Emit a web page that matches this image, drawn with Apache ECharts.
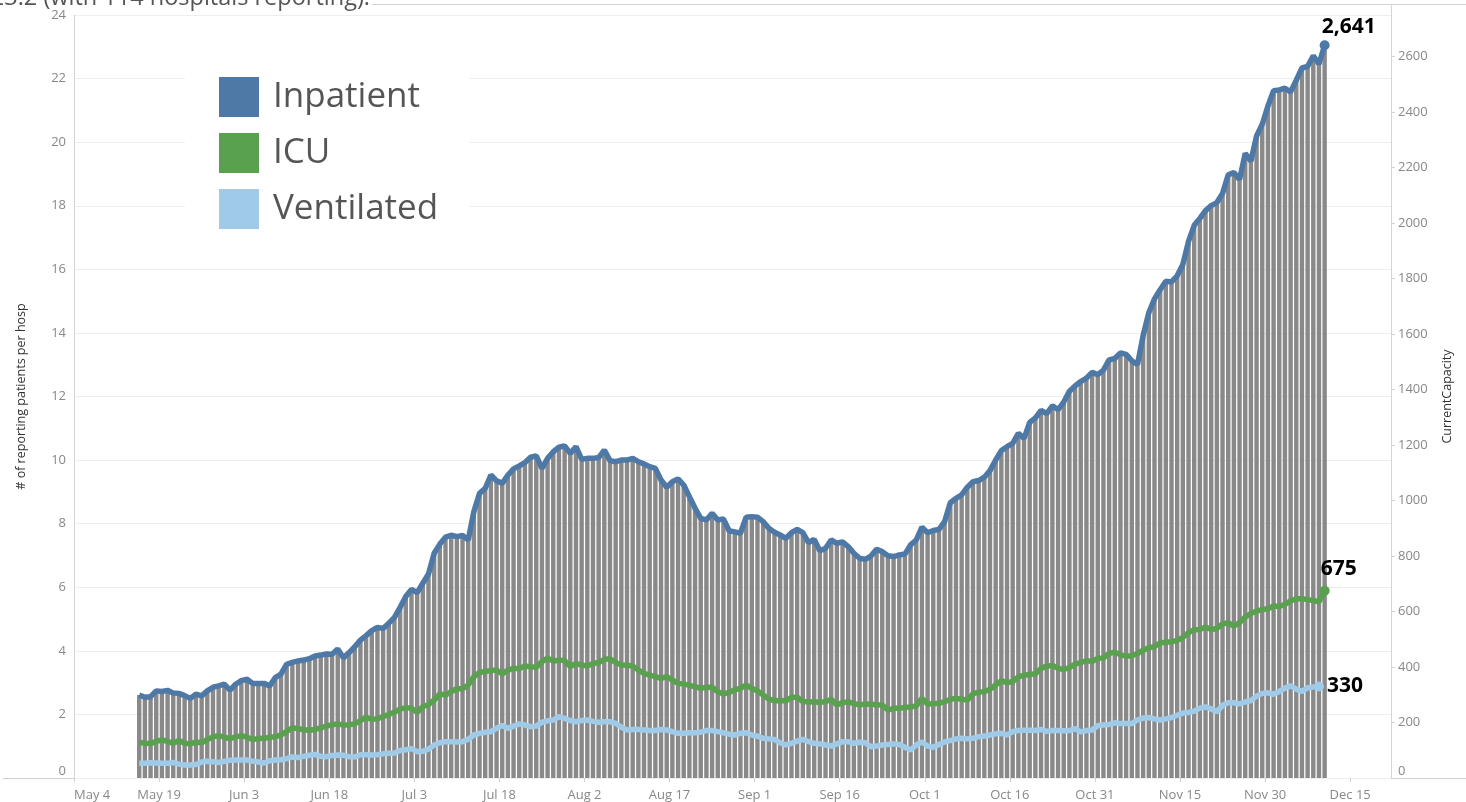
<!DOCTYPE html>
<html>
<head>
<meta charset="utf-8">
<script src="https://cdn.jsdelivr.net/npm/echarts@6/dist/echarts.min.js"></script>
<style>
html,body{margin:0;padding:0;background:#fff;}
#c{width:1466px;height:802px;}
</style>
</head>
<body>
<div id="c"></div>
<script>
// ---------- data ----------
const axisStartDate = '2020-05-04';   // first x-axis tick
const axisEndDate   = '2020-12-22';   // right edge of the axis
const firstDataDate = '2020-05-15';   // first reported day
const tickEveryDays = 15;
const seriesNames = ['Inpatient', 'ICU', 'Ventilated'];
const leftAxisMax = 24;
const rightAxisMax = 2750;
const titleText = 'Inpatients per reporting hospital: 23.2 (with 114 hospitals reporting).';
const leftAxisTitle = '# of reporting patients per hosp';
const rightAxisTitle = 'CurrentCapacity';

const inpatient = [
299,291,293,314,312,316,306,305,297,287,302,296,314,327,332,338,317,338,351,356,
341,341,341,332,362,375,410,417,422,425,430,440,443,447,446,465,433,452,473,497,
513,531,543,539,558,579,615,654,680,668,702,735,810,843,868,875,870,874,858,960,
1026,1044,1092,1071,1062,1092,1114,1125,1137,1156,1161,1116,1152,1176,1192,1197,1170,1194,1149,1152,
1152,1155,1182,1144,1140,1146,1146,1152,1140,1132,1122,1116,1074,1048,1068,1078,1056,1014,972,936,
930,954,930,934,891,887,882,940,942,940,924,900,886,876,864,884,896,884,848,860,
819,828,858,846,851,834,810,792,788,800,824,816,801,798,804,807,840,858,904,884,
892,896,924,992,1008,1020,1048,1068,1072,1084,1108,1146,1180,1194,1206,1242,1224,1282,1298,1325,
1313,1341,1328,1355,1394,1413,1429,1441,1462,1454,1470,1507,1512,1532,1527,1504,1490,1595,1677,1727,
1760,1790,1788,1810,1851,1934,1992,2017,2045,2063,2074,2107,2174,2182,2157,2251,2223,2314,2356,2422,
2477,2480,2486,2473,2515,2559,2565,2603,2574,2641
];
const icu = [
129,125,124,132,137,132,125,135,125,123,130,127,139,148,153,147,142,148,153,147,
139,142,143,147,149,155,168,181,178,174,172,175,181,187,192,195,191,192,195,207,
219,211,214,221,229,238,248,254,251,237,257,265,281,303,299,311,322,322,335,365,
380,384,387,389,375,389,395,395,404,401,399,419,432,421,425,423,401,413,407,404,
413,416,428,430,416,407,406,404,389,377,371,365,359,365,353,341,339,334,329,323,
327,327,311,303,308,318,323,335,323,314,299,285,278,279,278,291,291,275,275,274,
273,275,284,263,272,274,269,263,267,266,264,263,245,251,251,255,256,260,287,267,
268,269,275,284,287,284,281,303,310,311,320,335,351,344,347,365,370,373,376,395,
403,406,395,391,398,411,416,423,420,431,433,449,453,444,439,441,448,461,469,474,
487,489,491,496,507,524,534,535,544,535,539,555,560,547,560,580,593,602,607,610,
620,618,626,638,646,646,643,640,635,675
];
const ventilated = [
53,53,55,54,53,53,56,50,47,47,49,58,60,59,56,60,64,65,65,65,
60,58,54,62,65,66,70,76,74,78,82,85,78,77,81,83,82,77,76,84,
84,83,84,87,89,90,99,102,106,95,96,104,119,127,131,131,130,131,139,155,
161,165,167,179,189,179,187,195,191,185,187,201,206,209,221,215,207,203,207,209,
204,201,203,203,197,183,173,175,175,173,171,171,175,173,167,161,161,163,163,165,
171,171,167,163,158,155,161,163,155,151,143,141,139,127,119,125,133,139,131,125,
123,119,115,123,131,131,125,129,127,113,115,119,121,123,121,111,101,119,130,115,
111,121,130,135,141,143,141,143,149,151,155,159,161,155,167,171,172,172,171,175,
168,171,171,170,171,178,166,171,173,188,191,193,199,196,196,196,209,216,218,213,
209,213,218,226,234,236,241,252,256,249,239,262,271,271,267,274,279,295,305,307,
302,312,324,332,320,312,325,328,330
];

// ---------- helpers ----------
const DAY = 86400000;
const MONTHS = ['Jan','Feb','Mar','Apr','May','Jun','Jul','Aug','Sep','Oct','Nov','Dec'];
function toUTC(s){ const p = s.split('-').map(Number); return Date.UTC(p[0], p[1]-1, p[2]); }
const origin = toUTC(axisStartDate);
const axisMaxDays = (toUTC(axisEndDate) - origin) / DAY + 0.2;
const firstOffset = (toUTC(firstDataDate) - origin) / DAY;
// each day drawn at its middle (noon)
function dayX(i){ return firstOffset + i + 0.5; }

const COLORS = { Inpatient:'#4e79a7', ICU:'#59a14f', Ventilated:'#a0cbe8' };
const FONT = "'Open Sans', 'Lato', sans-serif";

function lineData(arr, labelCfg){
  return arr.map((v, i) => {
    if (i === arr.length - 1) {
      return { value:[dayX(i), v], symbol:'circle', symbolSize:10, label:labelCfg };
    }
    return [dayX(i), v];
  });
}
const endLabelBase = { show:true, color:'#000', fontWeight:'bold', fontSize:21, fontFamily:FONT,
  formatter: p => p.value[1].toLocaleString('en-US') };

const chart = echarts.init(document.getElementById('c'), null, { renderer:'canvas' });

const option = {
  animation:false,
  backgroundColor:'#fff',
  textStyle:{ fontFamily:FONT },
  grid:{ left:74, right:75, top:15, bottom:24, containLabel:false },
  legend:{
    data: seriesNames,
    orient:'vertical',
    left:185, top:67,
    icon:'rect',
    itemWidth:40, itemHeight:40, itemGap:16,
    selectedMode:false,
    backgroundColor:'#fff',
    padding:[10, 31, 12, 34],
    textStyle:{ fontSize:35, color:'#555', fontFamily:FONT, padding:[8,0,0,9] }
  },
  xAxis:{
    type:'value',
    min:0, max:axisMaxDays, interval:tickEveryDays,
    axisLine:{ show:false },
    axisTick:{ show:true, length:4, lineStyle:{ color:'#d0d0d0' } },
    splitLine:{ show:false },
    axisLabel:{
      color:'#888', fontSize:13, margin:11, showMaxLabel:false, alignMinLabel:'left',
      formatter: v => {
        if (Math.abs(v % tickEveryDays) > 1e-6) return '';
        const d = new Date(origin + v * DAY);
        return MONTHS[d.getUTCMonth()] + ' ' + d.getUTCDate();
      }
    }
  },
  yAxis:[
    {
      type:'value', position:'left', min:0, max:leftAxisMax, interval:2,
      name:leftAxisTitle, nameLocation:'middle', nameGap:46, nameRotate:90,
      nameTextStyle:{ color:'#333', fontSize:12.5 },
      axisLine:{ show:true, lineStyle:{ color:'#d4d4d4' } },
      axisTick:{ show:false },
      splitLine:{ show:true, lineStyle:{ color:'#eeeeee', width:1 } },
      axisLabel:{ color:'#888', fontSize:13, margin:8, verticalAlignMinLabel:'bottom' }
    },
    {
      type:'value', position:'right', min:0, max:rightAxisMax, interval:200,
      name:rightAxisTitle, nameLocation:'middle', nameGap:50, nameRotate:90,
      nameTextStyle:{ color:'#333', fontSize:12.5 },
      axisLine:{ show:true, lineStyle:{ color:'#d4d4d4' } },
      axisTick:{ show:true, length:4, lineStyle:{ color:'#d4d4d4' } },
      splitLine:{ show:false },
      axisLabel:{ color:'#888', fontSize:13, margin:7, showMaxLabel:false, verticalAlignMinLabel:'bottom',
        formatter: v => String(v) }
    }
  ],
  graphic:[
    { type:'line', silent:true, z:0, shape:{ x1:3, y1:778.5, x2:1466, y2:778.5 }, style:{ stroke:'#d0d0d0', lineWidth:1 } },
    { type:'line', silent:true, z:0, shape:{ x1:372, y1:4.5, x2:1466, y2:4.5 }, style:{ stroke:'#d4d4d4', lineWidth:1 } },
    { type:'line', silent:true, z:0, shape:{ x1:1391.5, y1:4.5, x2:1391.5, y2:15 }, style:{ stroke:'#d4d4d4', lineWidth:1 } },
    { type:'text', silent:true, x:370, y:-2,
      style:{ text:titleText, fill:'#555', fontSize:23.5, fontFamily:FONT, align:'right', verticalAlign:'middle' } }
  ],
  series:[
    {
      name:'Capacity bars', type:'bar', yAxisIndex:1, silent:true,
      barWidth:4.4, itemStyle:{ color:'#898989' }, z:1,
      data: inpatient.map((v, i) => [dayX(i), v])
    },
    {
      name:'Ventilated', type:'line', yAxisIndex:1, color:COLORS.Ventilated,
      symbol:'none', showSymbol:true, z:3,
      lineStyle:{ width:5.5, color:COLORS.Ventilated }, itemStyle:{ color:COLORS.Ventilated },
      data: lineData(ventilated, Object.assign({}, endLabelBase, { position:'right', distance:3 }))
    },
    {
      name:'ICU', type:'line', yAxisIndex:1, color:COLORS.ICU,
      symbol:'none', showSymbol:true, z:3,
      lineStyle:{ width:5.5, color:COLORS.ICU }, itemStyle:{ color:COLORS.ICU },
      data: lineData(icu, Object.assign({}, endLabelBase, { position:'top', align:'left', offset:[-4, -1] }))
    },
    {
      name:'Inpatient', type:'line', yAxisIndex:1, color:COLORS.Inpatient,
      symbol:'none', showSymbol:true, z:4,
      lineStyle:{ width:5.5, color:COLORS.Inpatient }, itemStyle:{ color:COLORS.Inpatient },
      data: lineData(inpatient, Object.assign({}, endLabelBase, { position:'top', align:'left', offset:[-3, 2] }))
    }
  ]
};
chart.setOption(option);
</script>
</body>
</html>
